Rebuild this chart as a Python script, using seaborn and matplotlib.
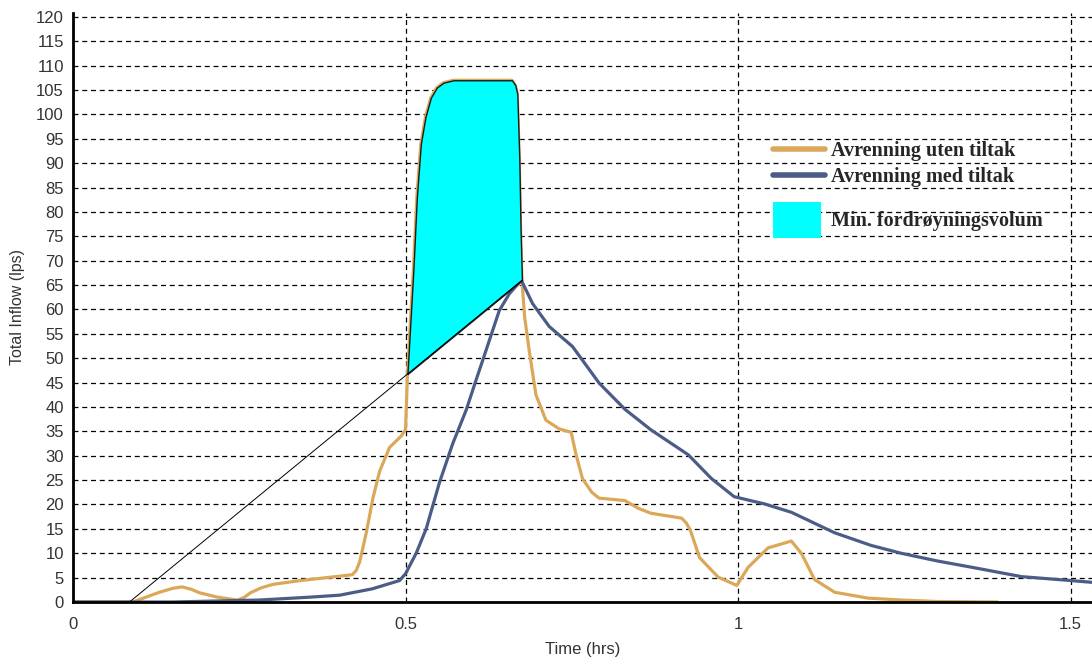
import numpy as np
import pandas as pd
import matplotlib.pyplot as plt
import seaborn as sns
from matplotlib.lines import Line2D
from matplotlib.patches import Patch

# Avrenning uten tiltak (oransje)
t_uten = [0, 0.09, 0.11, 0.13, 0.15, 0.164, 0.178, 0.19, 0.217, 0.247, 0.257, 0.267,
          0.283, 0.30, 0.342, 0.401, 0.42, 0.426,
          0.431, 0.441, 0.451, 0.461, 0.476, 0.494, 0.5, 0.503, 0.508, 0.512, 0.517,
          0.523, 0.53, 0.538, 0.547, 0.557, 0.572, 0.66, 0.665, 0.668, 0.671, 0.673,
          0.675, 0.679, 0.686, 0.696, 0.711, 0.731, 0.749, 0.756, 0.766, 0.78, 0.791, 0.83,
          0.85, 0.869, 0.915, 0.922, 0.928, 0.942, 0.97, 0.998, 1.015, 1.045, 1.08, 1.095, 1.115,
          1.145, 1.195, 1.245, 1.3, 1.39]
v_uten = [0, 0, 1.0, 2, 2.8, 3.1, 2.6, 1.9, 1, 0.4, 0.9, 1.9,
          2.9, 3.6, 4.4, 5.3, 5.6, 6.5,
          8.2, 14.2, 21.3, 26.8, 31.7, 34.1, 35.4, 47, 59, 68.7, 83,
          93.9, 99.5, 103.4, 105.5, 106.5, 107, 107, 106, 104.2, 91, 76,
          66, 58.5, 51.5, 42.5, 37.3, 35.5, 34.8, 30.4, 25.3, 22.5, 21.3, 20.8,
          19.2, 18.2, 17.2, 16.2, 14.8, 9.1, 5.1, 3.4, 7.1, 11.1, 12.5, 10, 4.6,
          2, 0.8, 0.4, 0.1, 0]

# Avrenning med tiltak (blå)
t_med = [0, 0.15, 0.28, 0.357, 0.401, 0.45, 0.491, 0.5, 0.516, 0.531, 0.551, 0.571,
         0.591, 0.606, 0.621, 0.641, 0.656, 0.674, 0.691, 0.716, 0.751, 0.791, 0.83,
         0.869, 0.925, 0.96, 0.994, 1.04, 1.08, 1.145, 1.2, 1.245, 1.3, 1.36, 1.426,
         1.5, 1.535]
v_med = [0, 0, 0.4, 1, 1.4, 2.7, 4.4, 5.8, 10, 15, 24.5, 32.5,
         39.3, 45.5, 51.6, 59.8, 63.2, 66, 61.2, 56.5, 52.4, 44.9, 39.5,
         35.3, 30.2, 25.3, 21.6, 20.1, 18.4, 14.2, 11.6, 10, 8.4, 6.9, 5.2,
         4.4, 4]

# rett linje for fordrøyning
t_linje = [0.085, 0.675]
v_linje = [0, 66]

orange = "#DBA85A"
blue = "#4B5D86"

sns.set_style("white")
plt.rcParams["font.family"] = ["Liberation Sans", "DejaVu Sans"]

fig = plt.figure(figsize=(10.92, 6.59), dpi=100)
ax = fig.add_axes([0.0668, 0.0865, 0.9332, 0.8938])

df_uten = pd.DataFrame({"t": t_uten, "v": v_uten})
df_med = pd.DataFrame({"t": t_med, "v": v_med})
sns.lineplot(data=df_uten, x="t", y="v", color=orange, linewidth=2.3,
             estimator=None, sort=False, ax=ax, zorder=4)
sns.lineplot(data=df_med, x="t", y="v", color=blue, linewidth=2.3,
             estimator=None, sort=False, ax=ax, zorder=4)

# fordrøyningsvolum
t_uten_arr = np.array(t_uten)
v_uten_arr = np.array(v_uten)
mask = (t_uten_arr >= 0.503) & (t_uten_arr <= 0.675)
tf = t_uten_arr[mask]
ax.fill_between(tf, np.interp(tf, t_linje, v_linje), v_uten_arr[mask],
                facecolor="#00FFFF", edgecolor="#1a1a1a", linewidth=1.0, zorder=5)

ax.plot(t_linje, v_linje, color="black", linewidth=0.7, zorder=6)

ax.set_xlim(0, 1.532)
ax.set_ylim(0, 120.8)
ax.set_xticks([0, 0.5, 1, 1.5])
ax.set_xticklabels(["0", "0.5", "1", "1.5"])
ax.set_yticks(range(0, 121, 5))
ax.tick_params(axis="both", direction="out", length=4, width=1, colors="black",
               labelsize=12, labelcolor="#333333")
ax.tick_params(axis="y", pad=2.5)
ax.tick_params(axis="x", pad=7)
ax.grid(True, color="black", linestyle=(0, (4, 3)), linewidth=0.9)
ax.set_axisbelow(True)

for s in ["top", "right"]:
    ax.spines[s].set_visible(False)
for s in ["left", "bottom"]:
    ax.spines[s].set_color("black")
    ax.spines[s].set_linewidth(2)
    ax.spines[s].set_zorder(7)

ax.set_xlabel("Time (hrs)", fontsize=12, color="#333333", labelpad=7)
ax.set_ylabel("Total Inflow (lps)", fontsize=11.5, color="#333333", labelpad=8)

font_leg = {"family": "Liberation Serif", "weight": "bold", "size": 14.5}
h1 = [Line2D([0], [0], color=orange, linewidth=4),
      Line2D([0], [0], color=blue, linewidth=4)]
leg1 = ax.legend(h1, ["Avrenning uten tiltak", "Avrenning med tiltak"],
                 loc="upper left", bbox_to_anchor=(763 / 1092, 1 - 131 / 659),
                 bbox_transform=fig.transFigure, frameon=False, prop=font_leg,
                 handlelength=2.6, handletextpad=0.3, labelspacing=0.28, borderpad=0)
ax.add_artist(leg1)
h2 = [Patch(facecolor="#00FFFF", edgecolor="none")]
ax.legend(h2, ["Min. fordrøyningsvolum"], loc="upper left",
          bbox_to_anchor=(763 / 1092, 1 - 192 / 659), bbox_transform=fig.transFigure,
          frameon=False, prop=font_leg, handlelength=2.4, handleheight=2.35,
          handletextpad=0.5, borderpad=0)

fig.savefig("out.png", dpi=100)
